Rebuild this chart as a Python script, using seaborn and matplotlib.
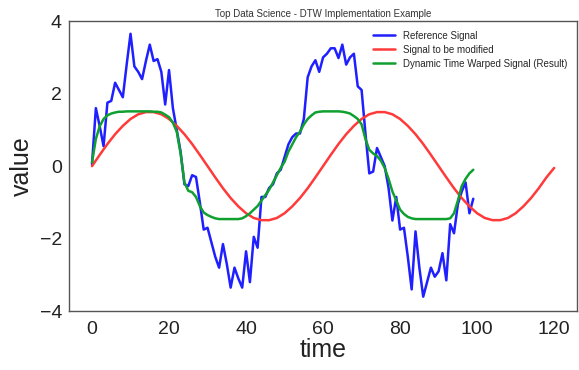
import numpy as np
import pandas as pd
import seaborn as sns
import matplotlib
matplotlib.use("Agg")
import matplotlib.pyplot as plt

# values
ref_signal = [0.05, 1.6, 1.1, 0.55, 1.75, 1.8, 2.3, 2.1, 1.9, 2.8,
              3.65, 2.75, 2.6, 2.4, 2.9, 3.35, 2.9, 2.95, 2.6, 1.7,
              2.65, 1.6, 1.0, 0.4, -0.5, -0.55, -0.25, -0.3, -1.0, -1.75,
              -1.7, -2.1, -2.5, -2.8, -2.15, -2.7, -3.35, -2.8, -3.1, -3.35,
              -2.35, -3.2, -1.95, -2.25, -0.85, -0.85, -0.6, -0.5, -0.2, -0.1,
              0.25, 0.6, 0.8, 0.9, 0.9, 1.3, 2.45, 2.75, 2.92, 2.6,
              3.0, 3.1, 3.25, 3.25, 2.98, 3.35, 2.8, 3.0, 3.1, 2.2,
              2.1, 0.9, -0.2, -0.15, 0.5, 0.25, 0.0, -0.6, -1.5, -0.85,
              -1.75, -1.7, -2.5, -3.4, -1.8, -2.8, -3.6, -3.2, -2.8, -3.05,
              -2.9, -2.4, -3.15, -1.6, -1.85, -1.05, -0.7, -0.45, -1.3, -0.9]

# signal to be modified, read every 2 time steps
mod_time = list(range(0, 121, 2))
mod_signal = [0.0, 0.31, 0.61, 0.88, 1.11, 1.30, 1.43, 1.49, 1.49, 1.43,
              1.30, 1.11, 0.88, 0.61, 0.31, 0.0, -0.31, -0.61, -0.88, -1.11,
              -1.30, -1.43, -1.49, -1.49, -1.43, -1.30, -1.11, -0.88, -0.61, -0.31,
              0.0, 0.31, 0.61, 0.88, 1.11, 1.30, 1.43, 1.49, 1.49, 1.43,
              1.30, 1.11, 0.88, 0.61, 0.31, 0.0, -0.31, -0.61, -0.88, -1.11,
              -1.30, -1.43, -1.49, -1.49, -1.43, -1.30, -1.11, -0.88, -0.61, -0.31,
              -0.05]

warped_signal = [0.1, 0.75, 1.1, 1.3, 1.4, 1.45, 1.48, 1.5, 1.5, 1.51,
                 1.51, 1.51, 1.51, 1.51, 1.51, 1.51, 1.5, 1.5, 1.48, 1.42,
                 1.35, 1.2, 0.95, 0.35, -0.45, -0.68, -0.72, -0.85, -1.1, -1.28,
                 -1.35, -1.4, -1.44, -1.46, -1.46, -1.46, -1.46, -1.46, -1.46, -1.44,
                 -1.38, -1.3, -1.2, -1.1, -0.95, -0.8, -0.65, -0.45, -0.25, -0.05,
                 0.12, 0.4, 0.6, 0.8, 0.95, 1.15, 1.3, 1.4, 1.48, 1.5,
                 1.51, 1.51, 1.51, 1.51, 1.51, 1.5, 1.48, 1.45, 1.38, 1.3,
                 1.15, 0.75, 0.45, 0.35, 0.28, 0.15, -0.05, -0.35, -0.7, -0.95,
                 -1.2, -1.32, -1.4, -1.44, -1.46, -1.46, -1.46, -1.46, -1.46, -1.46,
                 -1.46, -1.46, -1.46, -1.44, -1.3, -0.95, -0.55, -0.35, -0.2, -0.1]

ref_time = list(range(len(ref_signal)))
warp_time = list(range(len(warped_signal)))

sns.set_style("white")
plt.rcParams['font.family'] = ['Liberation Sans', 'DejaVu Sans']

fig = plt.figure(figsize=(5.79, 3.70), dpi=100)
ax = fig.add_axes([0.119, 0.159, 0.878, 0.784])

sns.lineplot(x=ref_time, y=ref_signal, color="#1f1fff", lw=1.8, label="Reference Signal", ax=ax)
sns.lineplot(x=mod_time, y=mod_signal, color="#ff3a3a", lw=1.8, label="Signal to be modified", ax=ax)
sns.lineplot(x=warp_time, y=warped_signal, color="#10a030", lw=1.8,
             label="Dynamic Time Warped Signal (Result)", ax=ax)

ax.set_xlim(-6, 126)
ax.set_ylim(-4, 4)
ax.set_xticks(range(0, 121, 20))
ax.set_yticks(range(-4, 5, 2))
ax.tick_params(labelsize=14, colors="#222222", length=0)
ax.tick_params(axis="x", pad=7)
ax.tick_params(axis="y", pad=5)
ax.set_xlabel("time", fontsize=18, color="#222222", labelpad=0)
ax.set_ylabel("value", fontsize=18, color="#222222", labelpad=4)
ax.set_title("Top Data Science - DTW Implementation Example", fontsize=7, color="#333333", pad=3)
for s in ax.spines.values():
    s.set_color("#555555")
    s.set_linewidth(1.0)

ax.legend(loc="upper right", frameon=False, fontsize=7, handlelength=2.3,
          labelspacing=0.4, borderaxespad=0.6)

fig.savefig("out.png", dpi=100)
